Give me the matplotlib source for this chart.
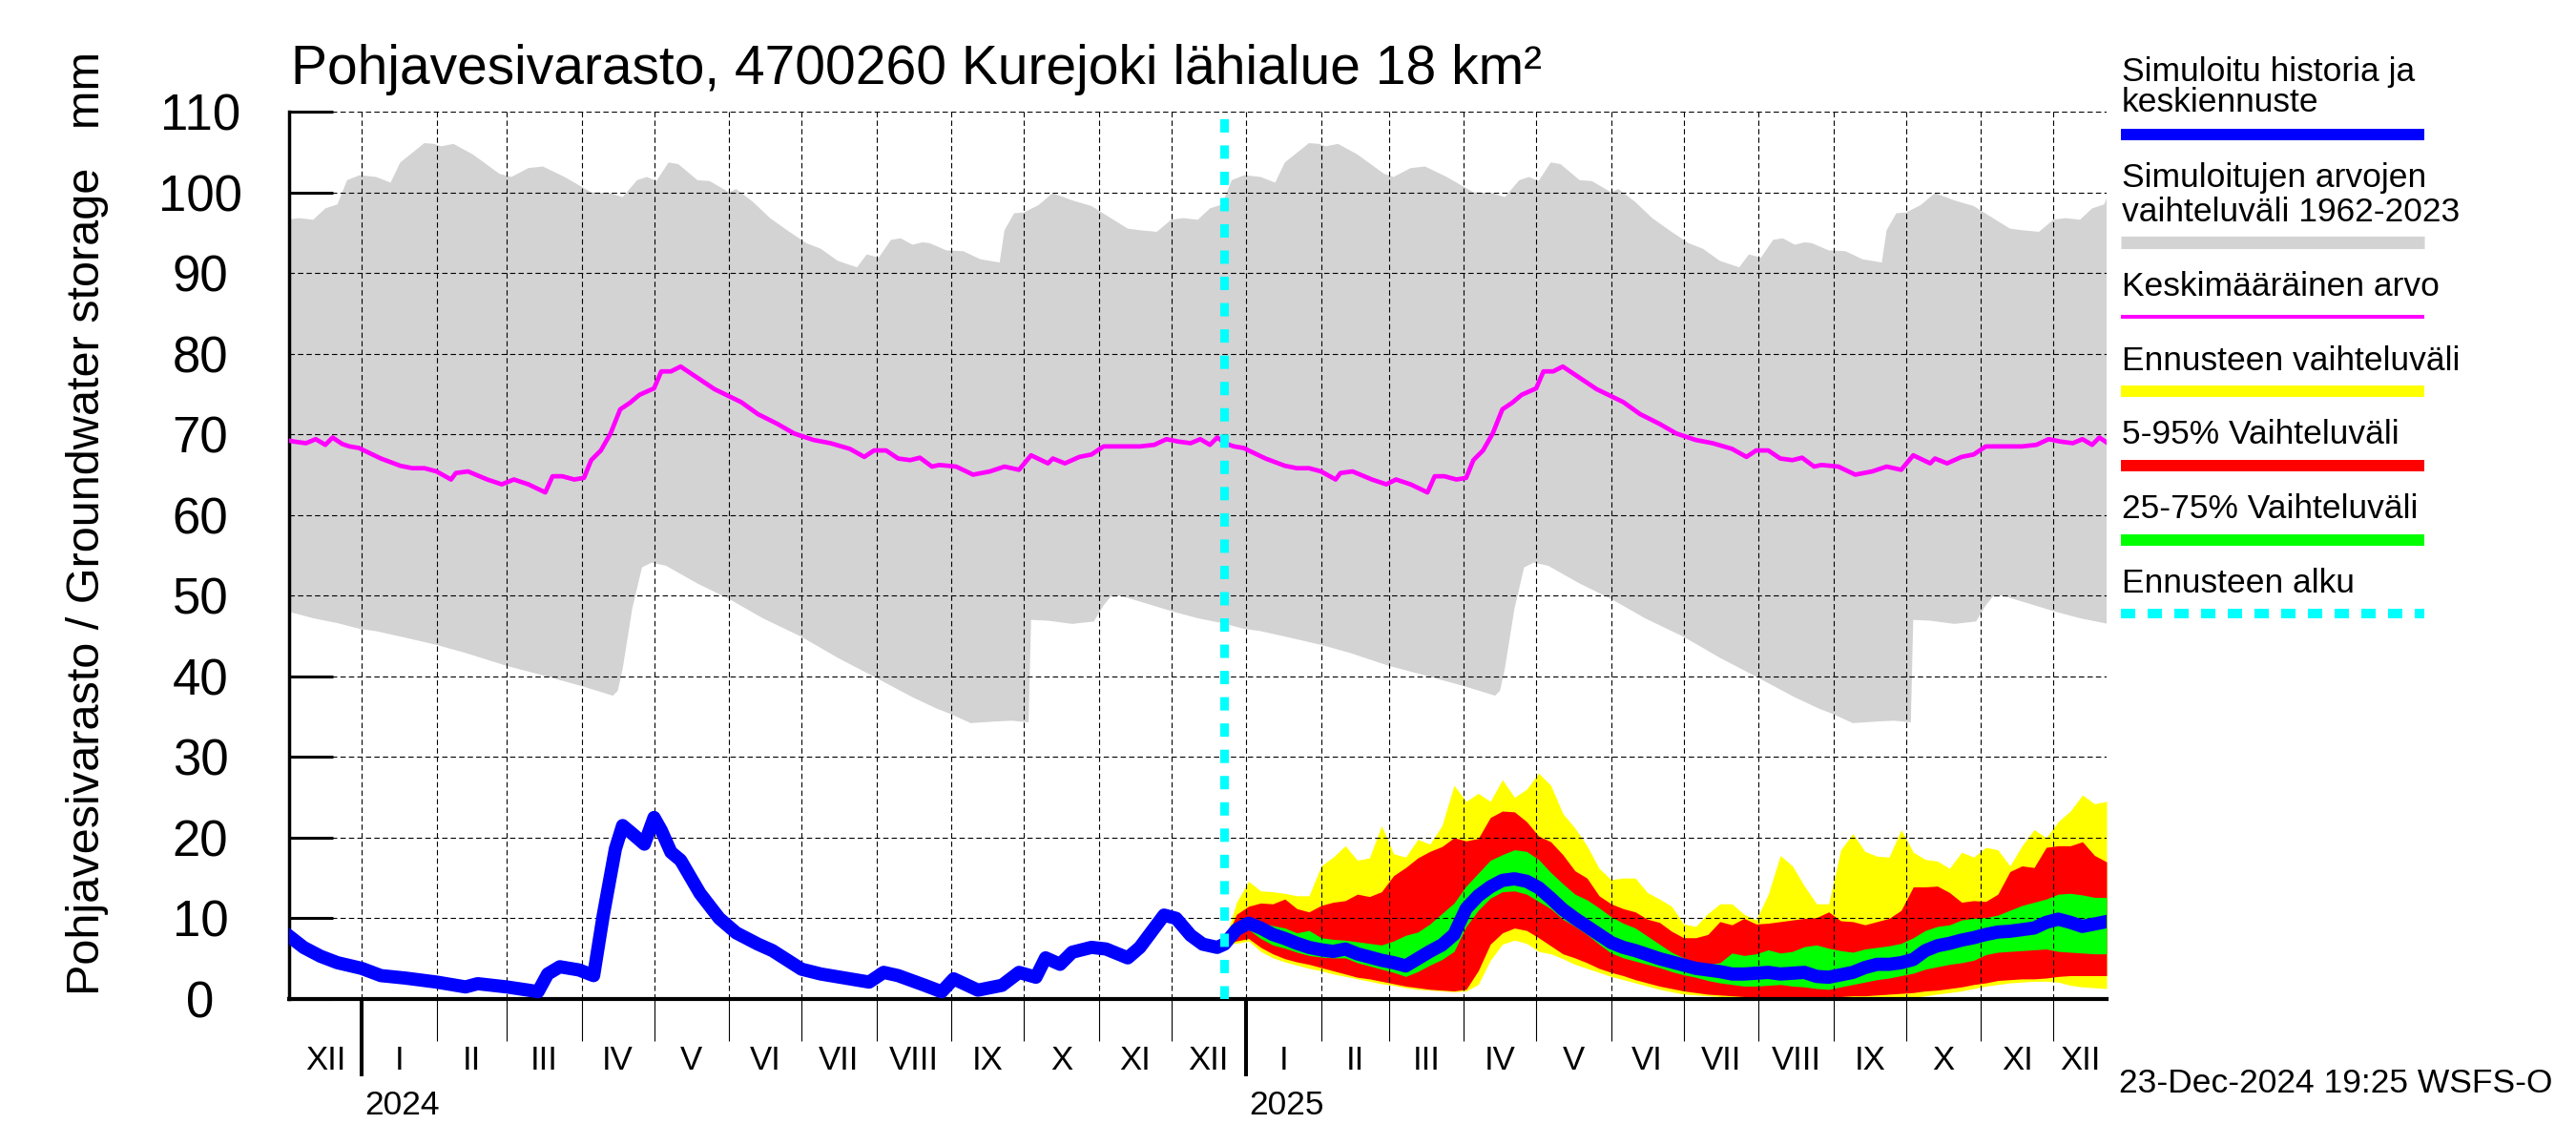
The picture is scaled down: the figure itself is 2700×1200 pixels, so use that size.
import numpy as np
import pandas as pd
import matplotlib
matplotlib.use('Agg')
import matplotlib.pyplot as plt
import matplotlib.dates as mdates
import matplotlib.transforms as mtransforms
from matplotlib.lines import Line2D

plt.rcParams['font.family'] = ['Liberation Sans', 'DejaVu Sans']

# --- climatology 1962-2023 (same every year), month-day keys ---
max_md = ['01-01', '01-07', '01-13', '01-17', '01-22', '01-27', '01-31', '02-03', '02-08', '02-16', '02-27',
          '03-03', '03-10', '03-16', '03-25', '04-05', '04-13', '04-18', '04-24', '04-28', '05-02', '05-07',
          '05-11', '05-19', '05-24', '06-01', '06-04', '06-11', '06-18', '06-26', '07-03', '07-09', '07-16',
          '07-24', '07-28', '08-02', '08-07', '08-11', '08-16', '08-20', '08-23', '08-30', '09-06', '09-13',
          '09-21', '09-23', '09-27', '10-01', '10-07', '10-13', '10-21', '10-29', '11-06', '11-13', '11-18',
          '11-25', '12-01', '12-06', '12-12', '12-17', '12-22', '12-26', '12-31']
max_vals = [102.1, 101.9, 101.2, 103.7, 104.9, 106.1, 106.0, 105.7, 106.0, 104.7, 102.3,
            101.9, 103.0, 103.2, 101.9, 100.0, 99.9, 99.4, 101.5, 101.9, 101.4, 103.7,
            103.5, 101.5, 101.4, 100.0, 100.4, 98.8, 96.8, 95.1, 93.7, 93.0, 91.5,
            90.7, 92.3, 91.9, 94.1, 94.3, 93.5, 93.8, 93.7, 92.8, 92.7, 91.7,
            91.3, 95.3, 97.4, 97.5, 98.4, 99.9, 99.0, 98.3, 96.8, 95.5, 95.3,
            95.1, 96.6, 96.8, 96.6, 98.0, 98.5, 101.5, 102.1]

min_md = ['01-07', '01-19', '02-01', '02-13', '03-01', '03-15', '04-01', '04-14', '04-16', '04-18', '04-22',
          '04-26', '04-30', '05-06', '05-19', '06-01', '06-15', '07-01', '07-16', '08-01', '08-16', '08-26',
          '09-01', '09-09', '09-19', '09-26', '10-03', '10-04', '10-11', '10-21', '10-30', '11-03', '11-06',
          '11-10', '11-21', '12-02', '12-12', '12-22', '12-31']
min_vals = [45.6, 44.8, 43.9, 42.9, 41.3, 40.2, 38.8, 37.6, 38.2, 40.9, 48.4,
            53.5, 54.1, 53.7, 51.5, 49.6, 47.2, 44.9, 42.3, 39.8, 37.4, 36.0,
            35.3, 34.2, 34.4, 34.5, 34.3, 47.0, 46.9, 46.5, 46.8, 48.8, 49.9,
            50.0, 49.0, 48.0, 47.2, 46.6, 45.9]

mean_md = ['01-02', '01-09', '01-17', '01-22', '01-27', '02-01', '02-07', '02-09', '02-14', '02-22', '02-28',
           '03-04', '03-10', '03-17', '03-20', '03-24', '03-29', '04-02', '04-05', '04-09', '04-13', '04-17',
           '04-21', '04-25', '05-01', '05-04', '05-08', '05-12', '05-18', '05-26', '06-06', '06-13', '06-21',
           '06-28', '07-06', '07-13', '07-21', '07-27', '07-31', '08-05', '08-10', '08-15', '08-19', '08-24',
           '08-27', '09-03', '09-10', '09-17', '09-23', '09-29', '10-04', '10-11', '10-13', '10-18', '10-24',
           '10-29', '11-03', '11-10', '11-18', '11-24', '11-29', '12-04', '12-09', '12-13', '12-17', '12-20',
           '12-24', '12-27', '12-31']
mean_vals = [68.0, 67.0, 66.1, 65.8, 65.8, 65.4, 64.4, 65.2, 65.4, 64.4, 63.8,
             64.4, 63.8, 62.8, 64.8, 64.8, 64.4, 64.6, 66.8, 68.0, 70.1, 73.1,
             73.9, 74.9, 75.7, 77.8, 77.8, 78.4, 77.2, 75.6, 74.0, 72.5, 71.3,
             70.1, 69.3, 68.9, 68.2, 67.2, 68.0, 68.0, 67.0, 66.8, 67.1, 66.0,
             66.2, 66.0, 65.0, 65.4, 66.0, 65.6, 67.4, 66.4, 67.0, 66.4, 67.2,
             67.5, 68.5, 68.5, 68.5, 68.7, 69.4, 69.1, 68.9, 69.4, 68.7, 69.6,
             68.8, 68.5, 68.3]
clim_years = [2023, 2024, 2025]

# --- simulated history ---
hist_dates = ['2023-12-02', '2023-12-08', '2023-12-15', '2023-12-22', '2024-01-01', '2024-01-09', '2024-01-19',
              '2024-02-01', '2024-02-13', '2024-02-18', '2024-03-01', '2024-03-10', '2024-03-14', '2024-03-18',
              '2024-03-23', '2024-03-31', '2024-04-06', '2024-04-10', '2024-04-15', '2024-04-18', '2024-04-22',
              '2024-04-27', '2024-05-01', '2024-05-04', '2024-05-08', '2024-05-12', '2024-05-20', '2024-05-28',
              '2024-06-04', '2024-06-13', '2024-06-19', '2024-07-01', '2024-07-09', '2024-07-19', '2024-07-29',
              '2024-08-04', '2024-08-10', '2024-08-21', '2024-08-28', '2024-09-02', '2024-09-12', '2024-09-22',
              '2024-09-29', '2024-10-06', '2024-10-10', '2024-10-16', '2024-10-21', '2024-10-29', '2024-11-04',
              '2024-11-13', '2024-11-18', '2024-11-22', '2024-11-28', '2024-12-03', '2024-12-09', '2024-12-14',
              '2024-12-20']
hist_vals = [7.8, 6.4, 5.3, 4.5, 3.8, 2.9, 2.6,
             2.1, 1.5, 1.9, 1.5, 1.1, 0.9, 3.1,
             4.0, 3.6, 2.9, 10.4, 18.6, 21.5, 20.5,
             19.2, 22.5, 20.9, 18.2, 17.2, 13.1, 10.0,
             8.2, 6.8, 6.0, 3.7, 3.1, 2.6, 2.1,
             3.3, 2.9, 1.7, 0.9, 2.5, 1.1, 1.7,
             3.3, 2.7, 5.1, 4.3, 5.8, 6.4, 6.2,
             5.1, 6.4, 8.0, 10.4, 10.0, 7.9, 6.8,
             6.4]

# --- forecast, every 5 days from 23-Dec-2024 ---
fc_start = '2024-12-23'
fc_max = [7.0, 12.0, 14.6, 13.4, 13.3, 13.1, 12.8, 12.8, 16.5, 17.6, 19.0, 17.2, 17.5, 21.5, 18.0, 17.6, 19.8,
          19.2, 21.5, 26.5, 24.5, 25.5, 24.5, 27.2, 25.0, 26.0, 28.0, 26.5, 23.0, 21.2, 19.0, 16.2, 14.8, 15.0,
          15.0, 13.2, 12.4, 11.5, 9.3, 9.0, 10.6, 11.8, 11.8, 10.5, 9.8, 13.0, 17.8, 16.5, 14.0, 11.8, 11.8,
          18.5, 20.5, 18.3, 17.7, 17.6, 21.0, 18.2, 17.3, 17.1, 16.2, 18.2, 17.6, 18.8, 18.5, 16.5, 19.0, 21.0,
          20.0, 22.0, 23.3, 25.3, 24.2, 24.5]
fc_p95 = [7.0, 10.5, 11.5, 11.9, 11.8, 12.4, 11.2, 10.8, 11.6, 12.0, 12.2, 13.0, 12.7, 13.3, 15.3, 16.3, 17.5,
          18.3, 18.9, 20.0, 19.6, 19.9, 22.5, 23.3, 23.2, 22.0, 20.2, 19.5, 17.9, 15.9, 15.0, 12.8, 11.8, 11.2,
          10.8, 9.9, 9.5, 8.4, 7.6, 7.6, 8.0, 9.6, 9.2, 10.0, 9.3, 9.4, 9.6, 9.8, 10.0, 10.1, 10.8,
          9.7, 9.6, 9.2, 9.6, 10.0, 11.0, 13.9, 13.9, 14.0, 13.2, 12.0, 12.2, 12.1, 13.0, 15.8, 16.5, 16.3,
          18.8, 19.0, 19.0, 19.5, 17.8, 17.0]
fc_p75 = [7.0, 9.0, 9.9, 9.5, 9.1, 8.8, 8.2, 8.5, 7.6, 7.4, 7.3, 7.1, 6.9, 6.7, 7.2, 7.9, 8.3,
          9.3, 10.6, 11.9, 14.0, 15.6, 17.2, 17.9, 18.5, 18.3, 17.3, 15.7, 14.3, 13.0, 12.3, 11.3, 10.2, 9.4,
          8.8, 7.8, 6.8, 5.8, 5.1, 4.5, 4.3, 4.5, 5.7, 5.4, 5.6, 6.1, 5.7, 5.9, 6.5, 6.7, 6.3,
          6.0, 5.8, 6.2, 6.4, 6.6, 6.9, 7.6, 8.5, 9.0, 9.2, 9.8, 10.0, 10.1, 10.4, 11.0, 11.6, 12.0,
          12.4, 13.0, 13.1, 12.9, 12.6, 12.6]
fc_p50 = [6.8, 8.6, 9.4, 8.8, 8.0, 7.5, 6.9, 6.4, 6.1, 5.9, 6.2, 5.6, 5.2, 4.8, 4.5, 4.1, 5.0,
          5.9, 6.7, 8.0, 11.2, 12.8, 13.9, 14.7, 14.9, 14.6, 13.8, 12.5, 11.1, 10.0, 9.0, 8.0, 7.0, 6.4,
          6.0, 5.5, 5.0, 4.6, 4.2, 3.8, 3.6, 3.4, 3.1, 3.1, 3.2, 3.3, 3.1, 3.2, 3.3, 2.8, 2.7,
          3.0, 3.3, 3.9, 4.3, 4.3, 4.5, 4.9, 6.0, 6.6, 6.9, 7.3, 7.6, 8.0, 8.3, 8.4, 8.6, 8.8,
          9.5, 9.9, 9.5, 9.0, 9.3, 9.6]
fc_p25 = [6.8, 8.0, 8.6, 7.5, 6.7, 6.3, 5.8, 5.4, 5.2, 5.1, 5.1, 4.5, 4.1, 3.7, 3.3, 2.8, 3.4,
          4.2, 4.9, 5.9, 9.0, 11.0, 12.5, 13.3, 13.4, 13.0, 12.1, 11.2, 9.9, 9.0, 8.0, 6.8, 5.7, 5.1,
          4.7, 4.3, 3.9, 3.4, 3.0, 2.7, 2.3, 2.0, 1.8, 1.6, 1.6, 1.7, 1.8, 1.6, 1.5, 1.3, 1.2,
          1.5, 1.8, 2.1, 2.4, 2.6, 2.9, 3.2, 3.7, 4.0, 4.3, 4.5, 4.8, 5.5, 5.8, 5.9, 6.0, 6.1,
          6.2, 5.9, 5.8, 5.7, 5.6, 5.6]
fc_p5 = [6.8, 7.2, 7.5, 6.4, 5.6, 5.0, 4.6, 4.3, 3.9, 3.5, 3.1, 2.7, 2.5, 2.2, 1.9, 1.6, 1.4,
         1.2, 1.1, 1.0, 1.2, 3.5, 6.8, 8.2, 8.8, 8.5, 7.6, 6.6, 5.6, 5.1, 4.5, 3.8, 3.3, 2.9,
         2.4, 2.0, 1.6, 1.3, 1.0, 0.8, 0.6, 0.5, 0.4, 0.3, 0.2, 0.2, 0.2, 0.2, 0.2, 0.2, 0.3,
         0.3, 0.4, 0.4, 0.5, 0.6, 0.7, 0.8, 1.0, 1.1, 1.3, 1.5, 1.8, 2.0, 2.3, 2.4, 2.5, 2.5,
         2.6, 2.8, 2.9, 2.9, 2.9, 2.9]
fc_min = [6.8, 6.9, 7.2, 5.9, 5.1, 4.6, 4.2, 3.8, 3.5, 3.1, 2.8, 2.5, 2.2, 1.9, 1.7, 1.4, 1.2,
          1.1, 1.0, 0.9, 1.0, 1.8, 4.8, 6.8, 7.3, 6.9, 5.9, 5.6, 5.0, 4.3, 3.8, 3.3, 2.8, 2.4,
          2.0, 1.6, 1.2, 0.9, 0.6, 0.5, 0.4, 0.3, 0.1, 0.0, 0.0, 0.0, 0.0, 0.0, 0.0, 0.0, 0.0,
          0.0, 0.0, 0.0, 0.0, 0.0, 0.1, 0.2, 0.4, 0.6, 0.8, 1.0, 1.3, 1.6, 1.8, 2.0, 2.1, 2.2,
          2.2, 2.1, 1.7, 1.5, 1.4, 1.3]

roman = ['I', 'II', 'III', 'IV', 'V', 'VI', 'VII', 'VIII', 'IX', 'X', 'XI', 'XII']
x_start, x_end = '2023-12-02', '2025-12-23'

title = 'Pohjavesivarasto, 4700260 Kurejoki lähialue 18 km²'
ylabel = 'Pohjavesivarasto / Groundwater storage   mm'
stamp = '23-Dec-2024 19:25 WSFS-O'
legend_items = [
    (['Simuloitu historia ja', 'keskiennuste'], '#0000ff', 8.6, None),
    (['Simuloitujen arvojen', 'vaihteluväli 1962-2023'], '#d3d3d3', 9.4, None),
    (['Keskimääräinen arvo'], '#ff00ff', 2.9, None),
    (['Ennusteen vaihteluväli'], '#ffff00', 8.6, None),
    (['5-95% Vaihteluväli'], '#ff0000', 8.6, None),
    (['25-75% Vaihteluväli'], '#00ff00', 8.6, None),
    (['Ennusteen alku'], '#00ffff', 7.2, (1.5, 1.3)),
]


def on_years(md_list, values):
    dates = pd.to_datetime([f'{y}-{md}' for y in clim_years for md in md_list])
    return mdates.date2num(dates), np.tile(values, len(clim_years))


fig = plt.figure(figsize=(27, 12), dpi=100)
ax = fig.add_axes([303 / 2700, 1 - 1047 / 1200, 1905 / 2700, 930 / 1200])
ax.set_axisbelow(True)

# gray simulated range
ux, uy = on_years(max_md, max_vals)
lx, ly = on_years(min_md, min_vals)
ax.fill(np.concatenate([ux, lx[::-1]]), np.concatenate([uy, ly[::-1]]),
        color='#d3d3d3', lw=0, zorder=1)

# mean
mx, my = on_years(mean_md, mean_vals)
ax.plot(mx, my, color='#ff00ff', lw=3.4, zorder=3)

# forecast bands
fc_x = mdates.date2num(pd.date_range(fc_start, periods=len(fc_p50), freq='5D'))
ax.fill_between(fc_x, fc_min, fc_max, color='#ffff00', lw=0, zorder=1.1)
ax.fill_between(fc_x, fc_p5, fc_p95, color='#ff0000', lw=0, zorder=1.2)
ax.fill_between(fc_x, fc_p25, fc_p75, color='#00ff00', lw=0, zorder=1.3)

# history + median forecast
hx = mdates.date2num(pd.to_datetime(hist_dates))
ax.plot(np.concatenate([hx, fc_x]), np.concatenate([hist_vals, fc_p50]),
        color='#0000ff', lw=10, zorder=4)

# forecast start
fs = mdates.date2num(pd.Timestamp(fc_start))
ax.plot([fs, fs], [0, 110], color='#00ffff', lw=6.5, dashes=(1.55, 1.5), zorder=5)

# limits, grid
xmin, xmax = pd.Timestamp(x_start), pd.Timestamp(x_end)
ax.set_xlim(mdates.date2num(xmin), mdates.date2num(xmax))
ax.set_ylim(0, 110)
yt = list(range(0, 111, 10))
ax.set_yticks(yt)
for y in yt[1:]:
    ax.axhline(y, color='black', lw=0.8, ls=(0, (5, 3)), zorder=2)
month_starts = pd.date_range('2024-01-01', '2025-12-01', freq='MS')
for d in month_starts:
    ax.axvline(mdates.date2num(d), color='black', lw=0.8, ls=(0, (5, 3)), zorder=2)

ax.set_xticks(mdates.date2num([d for d in month_starts if d.month == 1]))
ax.set_xticks(mdates.date2num([d for d in month_starts if d.month != 1]), minor=True)
ax.tick_params(axis='x', which='major', direction='out', length=58, width=2.9, labelbottom=False)
ax.tick_params(axis='x', which='minor', direction='out', length=32, width=0.8, labelbottom=False)
ax.tick_params(axis='y', which='major', direction='in', length=33, width=2.2, pad=67, labelsize=38)
for lab in ax.get_yticklabels():
    lab.set_ha('center')

for s in ['top', 'right']:
    ax.spines[s].set_visible(False)
ax.spines['left'].set_linewidth(2.5)
ax.spines['bottom'].set_linewidth(3)

# month and year labels
trans = mtransforms.blended_transform_factory(ax.transData, ax.transAxes)
for m in pd.date_range('2023-12-01', '2025-12-01', freq='MS'):
    a = mdates.date2num(max(m, xmin))
    b = mdates.date2num(min(m + pd.offsets.MonthBegin(1), xmax))
    ax.text((a + b) / 2, -0.069, roman[m.month - 1], transform=trans,
            ha='center', va='center', fontsize=25)
for d in month_starts:
    if d.month == 1:
        ax.text(mdates.date2num(d) + 1.2, -0.12, str(d.year), transform=trans,
                ha='left', va='center', fontsize=25.5)

# texts
fig.text(305 / 2700, 1 - 88 / 1200, title, fontsize=41, ha='left', va='baseline')
fig.text(0.034, 0.543, ylabel, rotation=90, ha='center', va='center', fontsize=35)
fig.text(2221 / 2700, 1 - 1145 / 1200, stamp, fontsize=25.5, ha='left', va='baseline')

# legend
text_y = [[85, 117], [196, 232], [310], [388], [465], [543], [621]]
bar_y = [141, 254, 332, 410, 488, 566, 643]
for (lines, col, lw, dash), ty, by in zip(legend_items, text_y, bar_y):
    for txt, yy in zip(lines, ty):
        fig.text(2224 / 2700, 1 - yy / 1200, txt, fontsize=25.5, ha='left', va='baseline')
    ln = Line2D([2223 / 2700, 2541 / 2700], [1 - by / 1200] * 2, transform=fig.transFigure,
                color=col, lw=lw, solid_capstyle='butt', dash_capstyle='butt')
    if dash:
        ln.set_dashes(dash)
    fig.add_artist(ln)

fig.savefig('out.png', dpi=100)
